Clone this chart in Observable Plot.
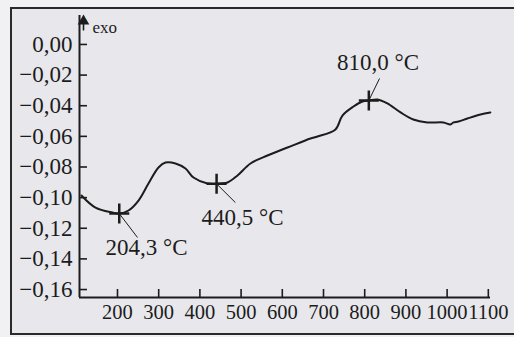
<!DOCTYPE html>
<html>
<head>
<meta charset="utf-8">
<script src="https://cdn.jsdelivr.net/npm/d3@7"></script>
<script src="https://cdn.jsdelivr.net/npm/@observablehq/plot@0.6"></script>
<style>
  html, body { margin: 0; padding: 0; background: #f1f1f4; }
  #wrap { position: relative; width: 514px; height: 337px; overflow: hidden; }
  #panel { position: absolute; left: 10px; top: 7px; width: 520px; height: 328px;
           border: 2px solid #2a2a2a; background: #e8e8ec; box-sizing: border-box; }
  #chart { position: absolute; left: 0; top: 0; }
</style>
</head>
<body>
<div id="wrap"><div id="panel"></div><div id="chart"></div></div>
<script>
// Temperature (°C) and DTA signal
const temps = [112.6, 146.6, 187.9, 204.3, 226.7, 251, 275.2, 299.5, 316.5, 340.8, 365, 384.5, 418.4, 440.5, 467, 491.3, 522.8, 564, 612.6, 668.4, 685.4, 729, 746, 772.8, 794.7, 810, 831, 855, 887, 918, 952, 991, 1008, 1015.5, 1027.7, 1049.5, 1081, 1105];
const signal = [-0.0986, -0.1065, -0.1097, -0.1104, -0.1084, -0.1019, -0.0908, -0.0803, -0.0771, -0.0777, -0.0810, -0.0869, -0.0908, -0.0910, -0.0901, -0.0855, -0.0777, -0.0725, -0.0673, -0.0614, -0.0601, -0.0555, -0.0464, -0.0405, -0.0372, -0.0366, -0.0359, -0.0385, -0.0444, -0.0490, -0.0509, -0.0509, -0.0522, -0.0509, -0.0503, -0.0483, -0.0457, -0.0444];

// Marked peaks
const peakT = [204.3, 440.5, 810.0];
const peakV = [-0.1104, -0.0910, -0.0366];
const peakLabels = ["204,3 °C", "440,5 °C", "810,0 °C"];
// Leader line ends and label anchors (data units)
const leaderT = [248.5, 486, 836];
const leaderV = [-0.1260, -0.1032, -0.0222];
const labelT = [171, 404, 733];
const labelV = [-0.1326, -0.1130, -0.0121];

const xTicks = [200, 300, 400, 500, 600, 700, 800, 900, 1000, 1100];
const yTicks = [0, -0.02, -0.04, -0.06, -0.08, -0.10, -0.12, -0.14, -0.16];
const yLabel = "exo";

const xDomain = [107.8, 1105.3];
const yDomain = [-0.1652, 0.0189];

const curve = temps.map((t, i) => ({t, v: signal[i]}));
const peaks = peakT.map((t, i) => ({t, v: peakV[i], lt: leaderT[i], lv: leaderV[i], xt: labelT[i], yv: labelV[i], label: peakLabels[i]}));

const fmtY = d => {
  const s = Math.abs(d).toFixed(2).replace(".", ",");
  return (d < -1e-9 ? "\u2212" : "") + s;
};

const ink = "#1c1c1c";
const font = "'Liberation Serif', 'DejaVu Serif', serif";

const chart = Plot.plot({
  width: 514,
  height: 337,
  marginLeft: 79,
  marginRight: 24,
  marginTop: 15,
  marginBottom: 40,
  style: {background: "transparent", fontFamily: font, fontSize: "20px", color: ink, overflow: "visible"},
  x: {domain: xDomain},
  y: {domain: yDomain},
  marks: [
    Plot.ruleX([xDomain[0]], {stroke: ink, strokeWidth: 2}),
    Plot.ruleY([yDomain[0]], {stroke: ink, strokeWidth: 1.8}),
    Plot.axisY({ticks: yTicks, tickFormat: fmtY, tickSize: -8, tickPadding: 15, strokeWidth: 1.6, stroke: ink, fill: ink, label: null, fontSize: 23}),
    Plot.axisX({ticks: xTicks, tickFormat: d => String(d), tickSize: -8, tickPadding: 15, strokeWidth: 1.6, stroke: ink, fill: ink, label: null, fontSize: 20.5}),
    // "exo" arrow next to the top of the y axis
    Plot.ruleX([xDomain[0]], {y1: 0.0145, y2: 0.0088, dx: 4, stroke: ink, strokeWidth: 1.6}),
    Plot.dot([xDomain[0]], {x: d => d, y: 0.0152, dx: 4, symbol: "triangle", r: 4.3, fill: ink, stroke: "none"}),
    Plot.text([yLabel], {frameAnchor: "top-left", dx: 13, dy: 5, fontSize: 17, textAnchor: "start", fill: ink}),
    Plot.line(curve, {x: "t", y: "v", curve: "catmull-rom", stroke: ink, strokeWidth: 2}),
    Plot.link(peaks, {x1: "t", y1: "v", x2: "lt", y2: "lv", stroke: ink, strokeWidth: 1}),
    Plot.dot(peaks, {x: "t", y: "v", symbol: "plus", r: 6.5, stroke: ink, strokeWidth: 2.5}),
    Plot.text(peaks, {x: "xt", y: "yv", text: "label", textAnchor: "start", fontSize: 23, fill: ink})
  ]
});
document.getElementById("chart").appendChild(chart);
</script>
</body>
</html>
